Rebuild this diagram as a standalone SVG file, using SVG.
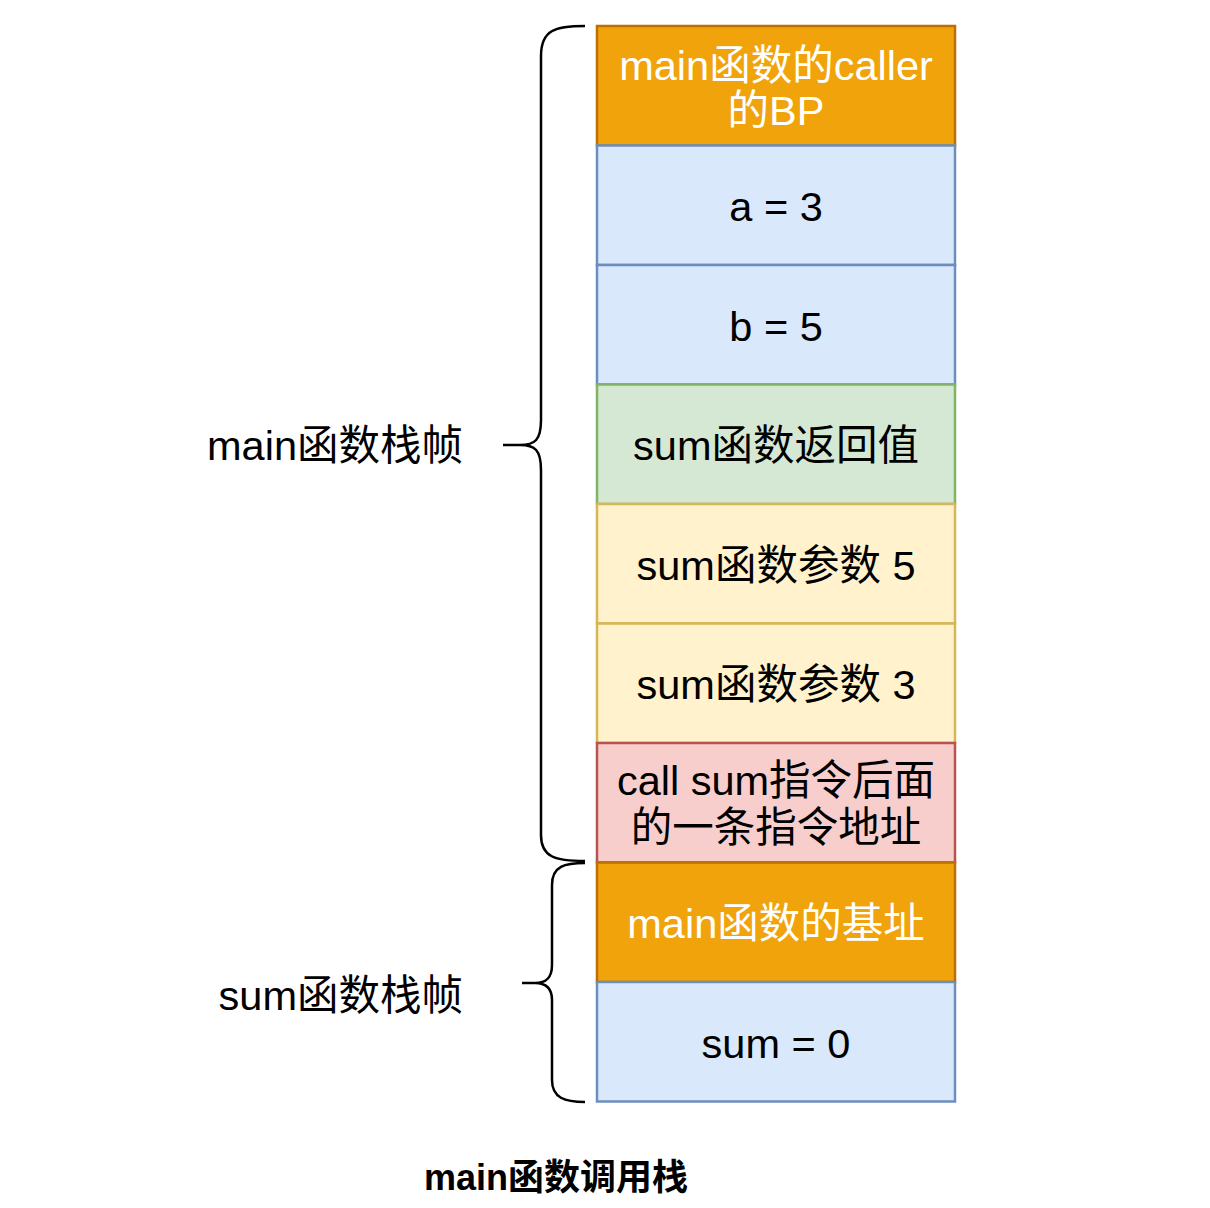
<svg xmlns="http://www.w3.org/2000/svg" width="1210" height="1208" viewBox="0 0 1210 1208">
<style>
text{font-family:"Liberation Sans","Noto Sans CJK SC",sans-serif;font-size:41.5px;text-anchor:middle;fill:#000}
.w{fill:#fff}
.lbl{text-anchor:end}
.title{font-weight:bold;font-size:36px}
.blk{stroke-width:2.5}
.or{fill:#f0a30a;stroke:#bd7000}
.bl{fill:#dae8fc;stroke:#6c8ebf}
.gr{fill:#d5e8d4;stroke:#82b366}
.ye{fill:#fff2cc;stroke:#d6b656}
.rd{fill:#f8cecc;stroke:#b85450}
.br{fill:none;stroke:#000;stroke-width:2.5}
</style>
<rect width="1210" height="1208" fill="#fff"/>
<g id="n1"><rect class="blk or" x="597" y="26" width="358" height="119.5"/><text class="w" x="776" y="80">main函数的caller</text><text class="w" x="776" y="125">的BP</text></g>
<g id="n2"><rect class="blk bl" x="597" y="145.5" width="358" height="119.5"/><text x="776" y="221">a = 3</text></g>
<g id="n3"><rect class="blk bl" x="597" y="265" width="358" height="119.5"/><text x="776" y="341">b = 5</text></g>
<g id="n4"><rect class="blk gr" x="597" y="384.5" width="358" height="119.5"/><text x="776" y="460">sum函数返回值</text></g>
<g id="n5"><rect class="blk ye" x="597" y="504" width="358" height="119.5"/><text x="776" y="580">sum函数参数 5</text></g>
<g id="n6"><rect class="blk ye" x="597" y="623.5" width="358" height="119.5"/><text x="776" y="699">sum函数参数 3</text></g>
<g id="n7"><rect class="blk rd" x="597" y="743" width="358" height="119.5"/><text x="776" y="795">call sum指令后面</text><text x="776" y="842">的一条指令地址</text></g>
<g id="n8"><rect class="blk or" x="597" y="862.5" width="358" height="119.5"/><text class="w" x="776" y="938">main函数的基址</text></g>
<g id="n9"><rect class="blk bl" x="597" y="982" width="358" height="119.5"/><text x="776" y="1058">sum = 0</text></g>
<g id="connectors">
<path class="br" d="M585,26 C555,26 541,30 541,56 V420 C541,440 535,445 520,445 H503 M520,445 C535,445 541,450 541,470 V835 C541,857 555,861 585,861"/>
<path class="br" d="M585,863 C565,863 552,866 552,885 V965 C552,978 546,983 535,983 H522 M535,983 C546,983 552,988 552,1000 V1080 C552,1098 565,1102 585,1102"/>
</g>
<g id="labels">
<text class="lbl" x="463" y="460">main函数栈帧</text>
<text class="lbl" x="463" y="1010">sum函数栈帧</text>
<text class="title" x="556" y="1190">main函数调用栈</text>
</g>
</svg>
